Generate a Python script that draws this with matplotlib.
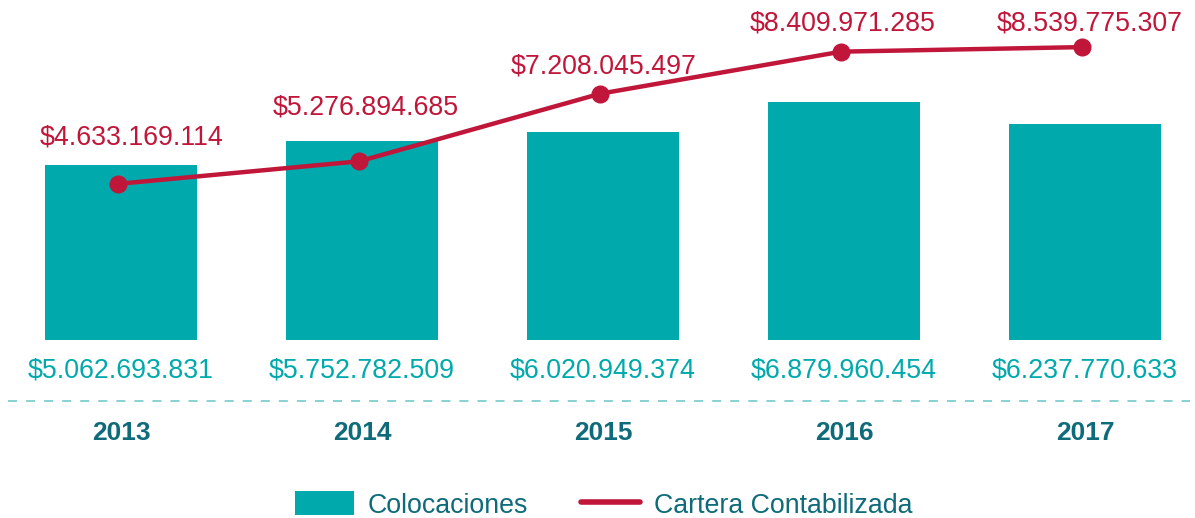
import matplotlib.pyplot as plt
from matplotlib.patches import Patch
from matplotlib.lines import Line2D

plt.rcParams['font.family'] = ['Liberation Sans', 'DejaVu Sans']

# Data
years = ['2013', '2014', '2015', '2016', '2017']
colocaciones = [5062693831, 5752782509, 6020949374, 6879960454, 6237770633]
cartera = [4633169114, 5276894685, 7208045497, 8409971285, 8539775307]

teal = '#00A9AC'
red = '#C0163A'
dark = '#0F6B7A'

def fmt(v):
    return '$' + f'{v:,}'.replace(',', '.')

W, H = 1195, 518
fig = plt.figure(figsize=(W / 100, H / 100), dpi=100)
ax = fig.add_axes([0, 0, 1, 1])
ax.set_axis_off()

x = list(range(len(years)))
ax.bar(x, [v / 1e9 for v in colocaciones], width=0.63, color=teal, zorder=1)
ax.set_xlim(-121 / 241, (W - 121) / 241)
ax.set_ylim(-(H - 340) / 34.6, 340 / 34.6)

# line on its own scale
ax2 = ax.twinx()
ax2.set_axis_off()
ax2.plot([i - 0.012 for i in x], [v / 1e9 for v in cartera], color=red, lw=3.2,
         marker='o', markersize=12, solid_capstyle='round', zorder=3)
ax2.set_ylim(-(H - 346) / 35, 346 / 35)

# red labels above points (pixel offsets)
label_dx = [13, 7, 4, 2, 8]
label_dy = [46, 54, 27, 28, 24]
for i, v in enumerate(cartera):
    ax2.annotate(fmt(v), (i - 0.012, v / 1e9), xytext=(label_dx[i], label_dy[i]),
                 textcoords='offset pixels', ha='center', va='center',
                 color=red, fontsize=19.3)

# bar values and years
tr = ax.get_xaxis_transform()
for i, v in enumerate(colocaciones):
    ax.text(i, 1 - 370 / H, fmt(v), transform=tr, ha='center', va='center',
            color=teal, fontsize=19.3)
    ax.text(i, 1 - 433 / H, years[i], transform=tr, ha='center', va='center',
            color=dark, fontsize=19, fontweight='bold')

# dashed separator
ax.plot([8 / W, 1190 / W], [1 - 401 / H, 1 - 401 / H], transform=ax.transAxes,
        color='#7FCFCF', lw=1.3, dashes=(5, 5))

handles = [Patch(facecolor=teal, edgecolor='none', label='Colocaciones'),
           Line2D([0], [0], color=red, lw=4, solid_capstyle='round', label='Cartera Contabilizada')]
fig.legend(handles=handles, loc='center', bbox_to_anchor=(0.505, 1 - 505 / H), ncol=2,
           frameon=False, fontsize=19.3, labelcolor=dark, handlelength=2.2,
           handleheight=1.0, handletextpad=0.5, columnspacing=2.0)

fig.savefig('out.png', dpi=100)
